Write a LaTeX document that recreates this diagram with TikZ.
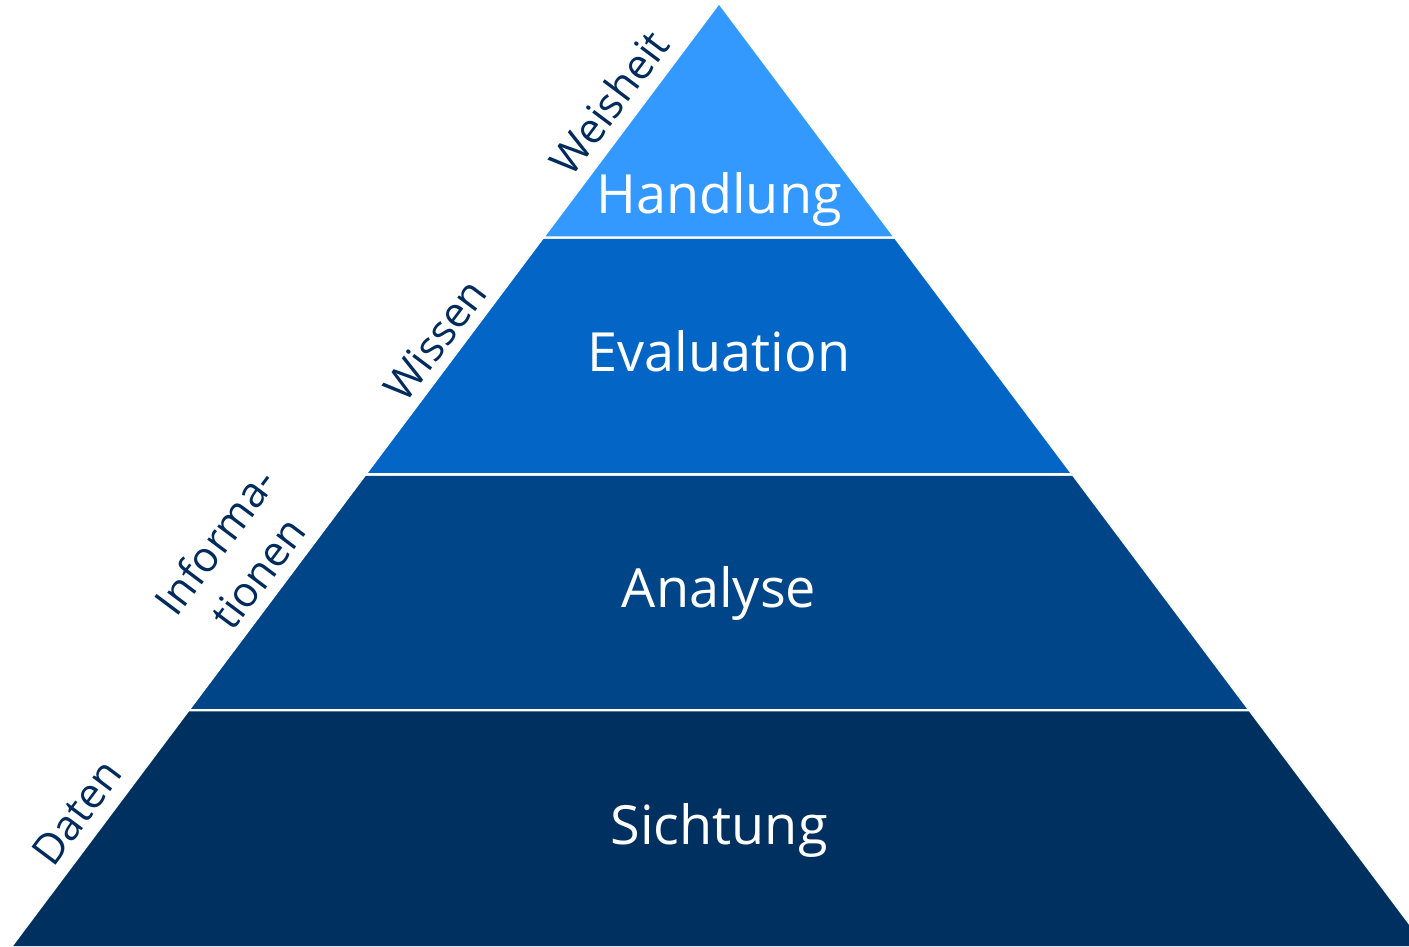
\documentclass[tikz,border=0pt]{standalone}
\usepackage{fontspec}
\setmainfont{Open Sans}
\definecolor{lay1}{HTML}{3399FF}
\definecolor{lay2}{HTML}{0366C6}
\definecolor{lay3}{HTML}{004587}
\definecolor{lay4}{HTML}{00305F}
\definecolor{navy}{HTML}{002B5C}
\tikzset{
  layertext/.style={text=white, font=\fontsize{54}{60}\selectfont, anchor=base, inner sep=0pt},
  sidelabel/.style={text=navy, font=\fontsize{42}{53}\selectfont, rotate=53.13, anchor=base, inner sep=0pt, align=center},
}
\begin{document}
\begin{tikzpicture}[x=1pt,y=1pt]
\useasboundingbox (0,0) rectangle (1409,946);
\begin{scope}
\clip (0,0) rectangle (1409,946);
% layers
\fill[lay1] (719,941) -- (892.6,709.5) -- (545.4,709.5) -- cycle;
\fill[lay2] (543.5,707) -- (894.5,707) -- (1070,473) -- (368,473) -- cycle;
\fill[lay3] (365.75,470) -- (1072.25,470) -- (1247,237) -- (191,237) -- cycle;
\fill[lay4] (189.1,234.5) -- (1248.9,234.5) -- (1424.75,0) -- (13.25,0) -- cycle;
\end{scope}
% layer texts
\node[layertext] (handlung) at (719,732.7) {Handlung};
\node[layertext] (evaluation) at (719,574.5) {Evaluation};
\node[layertext] (analyse) at (719,338) {Analyse};
\node[layertext] (sichtung) at (719,101.5) {Sichtung};
% side labels
\node[sidelabel] (weisheit) at (621.5,834) {Weisheit};
\node[sidelabel] (wissen) at (447,597) {Wissen};
\node[sidelabel] (informationen) at (270.4,363.7) {Informa-\\tionen};
\node[sidelabel] (daten) at (89,124.5) {Daten};
\end{tikzpicture}
\end{document}
